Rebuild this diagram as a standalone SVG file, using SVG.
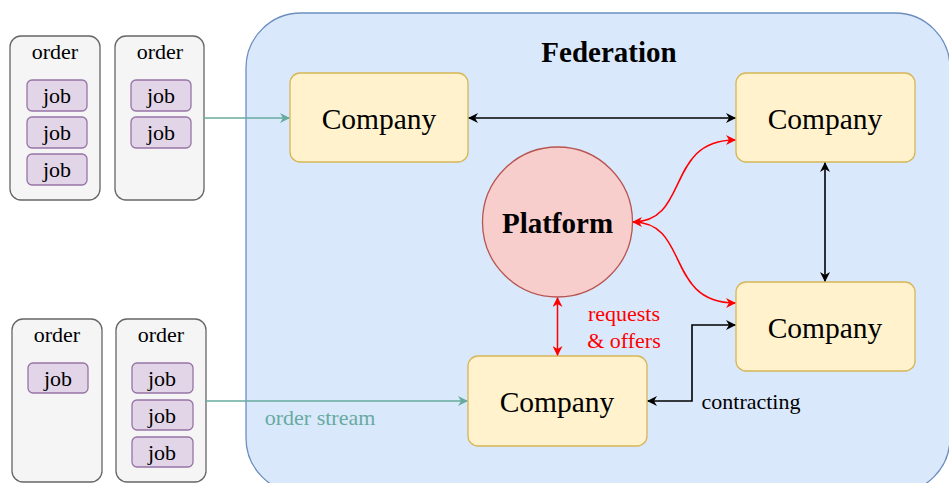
<svg xmlns="http://www.w3.org/2000/svg" width="949" height="483" viewBox="0 0 949 483">
  <style>
    text { font-family: "Liberation Serif", "Times New Roman", serif; text-anchor: middle; }
    .order { fill: #f5f5f5; stroke: #666666; stroke-width: 1.3; }
    .job { fill: #e1d5e7; stroke: #9673a6; stroke-width: 1.3; }
    .company { fill: #fff2cc; stroke: #d6b656; stroke-width: 1.3; }
    .small { font-size: 22px; fill: #000; }
    .big { font-size: 29.5px; fill: #000; }
    .bold { font-size: 29px; font-weight: bold; fill: #000; }
    .teal { fill: none; stroke: #67ab9f; stroke-width: 1.5; }
    .black { fill: none; stroke: #000; stroke-width: 1.6; }
    .red { fill: none; stroke: #ff0000; stroke-width: 1.5; }
  </style>
  <defs>
    <marker id="arTeal" viewBox="0 0 10 10" refX="9" refY="5" markerWidth="10" markerHeight="10" markerUnits="userSpaceOnUse" orient="auto-start-reverse">
      <path d="M0,0 L10,5 L0,10 L3,5 Z" fill="#67ab9f"/>
    </marker>
    <marker id="arBlack" viewBox="0 0 10 10" refX="9" refY="5" markerWidth="10" markerHeight="10" markerUnits="userSpaceOnUse" orient="auto-start-reverse">
      <path d="M0,0 L10,5 L0,10 L3,5 Z" fill="#000"/>
    </marker>
    <marker id="arRed" viewBox="0 0 10 10" refX="9" refY="5" markerWidth="10" markerHeight="10" markerUnits="userSpaceOnUse" orient="auto-start-reverse">
      <path d="M0,0 L10,5 L0,10 L3,5 Z" fill="#ff0000"/>
    </marker>
  </defs>

  <!-- federation container -->
  <g id="federation">
    <rect x="246" y="13" width="704" height="480" rx="55" fill="#dae8fc" stroke="#6c8ebf" stroke-width="1.3"/>
    <text class="bold" x="609" y="62">Federation</text>
  </g>

  <!-- incoming orders -->
  <g id="order1">
    <rect class="order" x="10" y="36" width="90" height="164" rx="11"/>
    <text class="small" x="55" y="59">order</text>
    <rect class="job" x="27" y="80" width="60" height="31" rx="5"/>
    <text class="small" x="57" y="103">job</text>
    <rect class="job" x="27" y="117" width="60" height="31" rx="5"/>
    <text class="small" x="57" y="140">job</text>
    <rect class="job" x="27" y="154" width="60" height="31" rx="5"/>
    <text class="small" x="57" y="177">job</text>
  </g>
  <g id="order2">
    <rect class="order" x="115" y="36" width="89" height="164" rx="11"/>
    <text class="small" x="160" y="59">order</text>
    <rect class="job" x="131" y="80" width="60" height="31" rx="5"/>
    <text class="small" x="161" y="103">job</text>
    <rect class="job" x="131" y="117" width="60" height="31" rx="5"/>
    <text class="small" x="161" y="140">job</text>
  </g>
  <g id="order3">
    <rect class="order" x="12" y="319" width="90" height="163" rx="11"/>
    <text class="small" x="57" y="342">order</text>
    <rect class="job" x="28" y="363" width="60" height="30" rx="5"/>
    <text class="small" x="58" y="386">job</text>
  </g>
  <g id="order4">
    <rect class="order" x="116" y="319" width="90" height="163" rx="11"/>
    <text class="small" x="161" y="342">order</text>
    <rect class="job" x="132" y="363" width="61" height="30" rx="5"/>
    <text class="small" x="162" y="386">job</text>
    <rect class="job" x="132" y="400" width="61" height="30" rx="5"/>
    <text class="small" x="162" y="423">job</text>
    <rect class="job" x="132" y="437" width="61" height="30" rx="5"/>
    <text class="small" x="162" y="460">job</text>
  </g>

  <!-- companies -->
  <g id="company-top-left">
    <rect class="company" x="290" y="73" width="178" height="89" rx="10"/>
    <text class="big" x="379" y="129">Company</text>
  </g>
  <g id="company-top-right">
    <rect class="company" x="736" y="73" width="179" height="89" rx="10"/>
    <text class="big" x="825" y="129">Company</text>
  </g>
  <g id="company-mid-right">
    <rect class="company" x="736" y="282" width="179" height="89" rx="10"/>
    <text class="big" x="825" y="338">Company</text>
  </g>
  <g id="company-bottom">
    <rect class="company" x="468" y="356" width="179" height="90" rx="10"/>
    <text class="big" x="557" y="412">Company</text>
  </g>

  <!-- platform -->
  <g id="platform">
    <circle cx="557.5" cy="222" r="75" fill="#f8cecc" stroke="#b85450" stroke-width="1.3"/>
    <text class="bold" x="557.5" y="233">Platform</text>
  </g>

  <!-- connectors -->
  <g id="connectors">
    <path class="teal" d="M204,118 H289" marker-end="url(#arTeal)"/>
    <path class="teal" d="M206,401 H467" marker-end="url(#arTeal)"/>
    <path class="black" d="M469,118 H735" marker-start="url(#arBlack)" marker-end="url(#arBlack)"/>
    <path class="black" d="M825,163 V281" marker-start="url(#arBlack)" marker-end="url(#arBlack)"/>
    <path class="black" d="M648,401 H692 V325 H735" marker-start="url(#arBlack)" marker-end="url(#arBlack)"/>
    <path class="red" d="M633,222 C690,222 665,140 735,140" marker-start="url(#arRed)" marker-end="url(#arRed)"/>
    <path class="red" d="M633,222 C690,222 665,303 735,303" marker-end="url(#arRed)"/>
    <path class="red" d="M557.5,298 V355" marker-start="url(#arRed)" marker-end="url(#arRed)"/>
  </g>

  <!-- connector labels -->
  <g id="labels">
    <text class="small" x="320" y="425" style="fill:#67ab9f">order stream</text>
    <text class="small" x="624" y="321" style="fill:#ff0000">requests</text>
    <text class="small" x="624" y="348" style="fill:#ff0000">&amp; offers</text>
    <text class="small" x="751" y="409">contracting</text>
  </g>
</svg>
